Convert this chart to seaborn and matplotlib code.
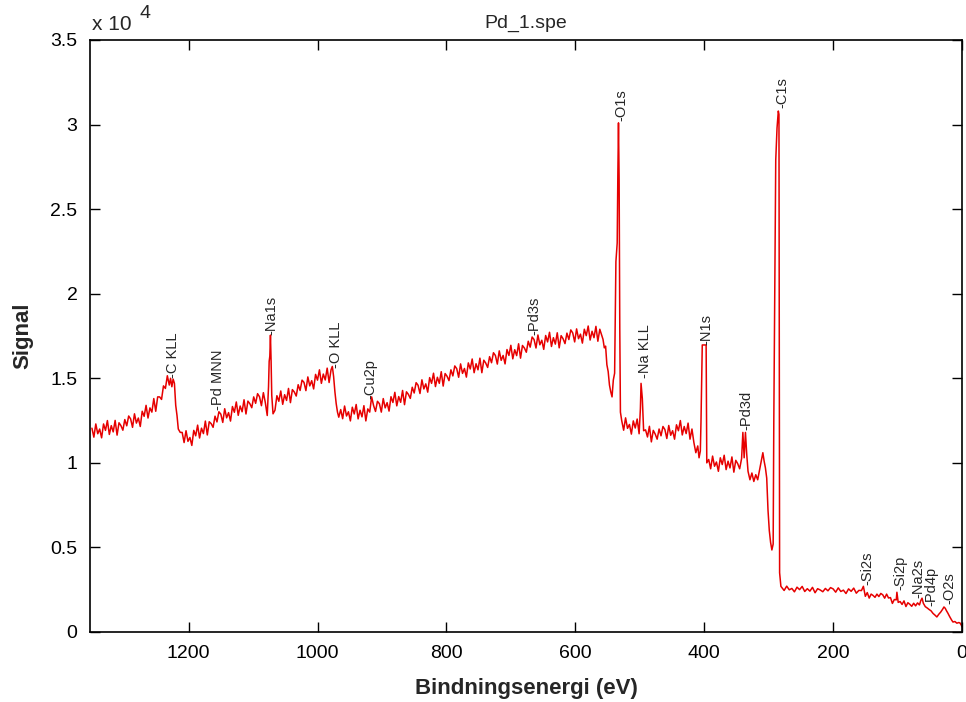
import numpy as np
import pandas as pd
import matplotlib
matplotlib.use("Agg")
import matplotlib.pyplot as plt
import seaborn as sns
from matplotlib.ticker import FuncFormatter

# ---------------- data ----------------
# high-energy background up to the C KLL Auger peak
seg1_e = [1350, 1347, 1344, 1341, 1338, 1335, 1332, 1329, 1326, 1323,
          1320, 1317, 1314, 1311, 1308, 1305, 1302, 1299, 1296, 1293,
          1290, 1287, 1284, 1281, 1278, 1275, 1272, 1269, 1266, 1263,
          1260, 1257, 1254, 1251, 1248, 1245, 1242, 1239, 1236, 1233,
          1230, 1228, 1226, 1224, 1222, 1220, 1218, 1216, 1213]
seg1_s = [12050, 11520, 12300, 11720, 12000, 11480, 12300, 11920, 12500, 11680,
          12200, 11830, 12510, 11640, 12370, 12200, 11930, 12560, 12190, 12770,
          12600, 12100, 12900, 12350, 12650, 12150, 13050, 12750, 13400, 12650,
          13250, 13000, 13800, 13050, 13900, 13900, 13750, 14550, 14400, 15150,
          14600, 15000, 14500, 14950, 14700, 13400, 12800, 12000, 11800]

# Pd MNN region and Na1s
seg2_e = [1210, 1207, 1204, 1201, 1198, 1195, 1192, 1189, 1186, 1183,
          1180, 1177, 1174, 1171, 1168, 1165, 1162, 1159, 1156, 1153,
          1150, 1147, 1144, 1141, 1138, 1135, 1132, 1129, 1126, 1123,
          1120, 1117, 1114, 1111, 1108, 1105, 1102, 1099, 1096, 1093,
          1090, 1087, 1084, 1081, 1078, 1076, 1075, 1074, 1073, 1072,
          1071, 1069]
seg2_s = [11800, 11200, 11900, 11270, 11500, 11030, 11920, 11600, 12230, 11470,
          12050, 11730, 12470, 11650, 12430, 12320, 12100, 12760, 12420, 13020,
          12880, 12390, 13200, 12660, 12970, 12470, 13330, 12990, 13600, 12810,
          13360, 13020, 13730, 12890, 13650, 13500, 13260, 13900, 13520, 14090,
          13910, 13380, 14150, 13570, 12800, 14500, 16000, 16300, 17550, 16000,
          14000, 12900]

# rise to the O KLL Auger peak
seg3_e = [1066, 1063, 1060, 1057, 1054, 1051, 1048, 1045, 1042, 1039,
          1036, 1033, 1030, 1027, 1024, 1021, 1018, 1015, 1012, 1009,
          1006, 1003, 1000, 997, 994, 991, 988, 985, 982, 979,
          977, 975, 973, 971, 969, 967]
seg3_s = [13110, 13970, 13640, 14250, 13460, 14030, 13690, 14400, 13560, 14330,
          14190, 13950, 14620, 14280, 14890, 14760, 14270, 15080, 14550, 14860,
          14370, 15230, 14890, 15500, 14700, 15250, 14900, 15600, 14750, 15500,
          15700, 15100, 14200, 13500, 13000, 12700]

# broad background with Cu2p and Pd3s
seg4_e = [964, 961, 958, 955, 952, 949, 946, 943, 940, 937,
          934, 931, 928, 925, 922, 919, 916, 913, 910, 907,
          904, 901, 898, 895, 892, 889, 886, 883, 880, 877,
          874, 871, 868, 865, 862, 859, 856, 853, 850, 847,
          844, 841, 838, 835, 832, 829, 826, 823, 820, 817,
          814, 811, 808, 805, 802, 799, 796, 793, 790, 787,
          784, 781, 778, 775, 772, 769, 766, 763, 760, 757,
          754, 751, 748, 745, 742, 739, 736, 733, 730, 727,
          724, 721, 718, 715, 712, 709, 706, 703, 700, 697,
          694, 691, 688, 685, 682, 679, 676, 673, 670, 667,
          664, 661, 658, 655, 652, 649, 646, 643, 640, 637,
          634, 631, 628, 625, 622, 619, 616, 613, 610, 607,
          604, 601, 598, 595, 592, 589, 586, 583, 580, 577,
          574, 571, 568, 565, 562]
seg4_s = [13150, 12610, 13360, 12770, 13020, 12480, 13290, 12890, 13450, 12600,
          13110, 12720, 13380, 12480, 13190, 13000, 13900, 13390, 13040, 13640,
          13500, 13000, 13800, 13250, 13560, 13060, 13910, 13570, 14170, 13370,
          13920, 13580, 14280, 13440, 14200, 14050, 13810, 14470, 14130, 14740,
          14590, 14100, 14910, 14370, 14670, 14180, 15040, 14700, 15300, 14510,
          15060, 14700, 15390, 14540, 15280, 15120, 14860, 15500, 15140, 15730,
          15570, 15060, 15850, 15290, 15580, 15070, 15910, 15550, 16140, 15330,
          15860, 15500, 16190, 15330, 16070, 15900, 15640, 16280, 15920, 16510,
          16350, 15840, 16620, 16060, 16350, 15850, 16700, 16350, 16950, 16150,
          16690, 16340, 17040, 16190, 16940, 16790, 16540, 17190, 16840, 17440,
          17290, 16790, 17560, 16980, 17250, 16710, 17530, 17150, 17720, 16880,
          17400, 17020, 17690, 16800, 17520, 17340, 17050, 17670, 17290, 17860,
          17680, 17150, 17920, 17340, 17610, 17080, 17900, 17520, 18090, 17260,
          17780, 17400, 18070, 17190, 17900]

# O1s, Na KLL and the plateau before N1s
seg5_e = [557, 555, 553, 551, 549, 547, 545, 543, 541, 539,
          537, 535, 534, 533, 532, 531, 530, 528, 525, 522,
          519, 516, 513, 510, 507, 504, 501, 499, 498, 496,
          494, 491, 488, 485, 482, 479, 476, 473, 470, 467,
          464, 461, 458, 455, 452, 449, 446, 443, 440, 437,
          434, 431, 428, 425, 422, 419, 416, 413, 410, 408,
          406, 405]
seg5_s = [17300, 16800, 16900, 15800, 15400, 14600, 14200, 13900, 14900, 15300,
          21900, 23000, 27000, 30100, 26700, 18000, 13000, 12500, 11930, 12660,
          12040, 12270, 11700, 12480, 12060, 12590, 11720, 13200, 14700, 13800,
          11900, 11950, 11530, 12160, 11240, 11920, 11700, 11400, 12000, 11600,
          12150, 11970, 11440, 12210, 11630, 11900, 11400, 12250, 11900, 12500,
          11650, 12150, 11730, 12350, 11400, 12000, 11200, 10600, 11000, 10300,
          10700, 12400]

# N1s, Pd3d and the C1s peak
seg6_e = [403, 400, 397, 396, 393, 390, 387, 384, 381, 378,
          375, 372, 369, 366, 363, 360, 357, 354, 351, 348,
          345, 342, 340, 338, 336, 334, 332, 329, 326, 323,
          320, 317, 314, 311, 309, 307, 305, 303, 301, 299,
          297, 295, 293, 292, 289, 287, 285, 284]
seg6_s = [16970, 16970, 16970, 10000, 10200, 9650, 10400, 9800, 10050, 9500,
          10300, 9900, 10450, 9600, 10100, 9700, 10350, 9450, 10150, 9950,
          9650, 10250, 11800, 10300, 11800, 10500, 9500, 9000, 9400, 8900,
          9300, 9000, 9600, 10200, 10600, 10100, 9700, 9100, 7200, 6000,
          5300, 4850, 5200, 12500, 27900, 29800, 30800, 30600]

# low-energy tail: Si2s, Si2p, Na2s, Pd4p, O2s
seg7_e = [283, 281, 280, 276, 272, 268, 264, 260, 256, 252,
          248, 244, 240, 236, 232, 228, 224, 220, 216, 212,
          208, 204, 200, 196, 192, 188, 184, 180, 176, 172,
          168, 164, 160, 156, 153, 150, 147, 144, 141, 138,
          135, 132, 129, 126, 123, 120, 117, 114, 111, 108,
          105, 102, 101, 99, 96, 93, 90, 87, 84, 81,
          78, 75, 72, 69, 66, 64, 62, 60, 57, 54,
          51, 48, 45, 42, 39, 36, 33, 30, 28, 26,
          24, 22, 19, 16, 14, 11, 8, 5, 3, 1,
          0]
seg7_s = [3500, 2700, 2650, 2455, 2710, 2495, 2575, 2375, 2650, 2505,
          2695, 2395, 2560, 2415, 2640, 2320, 2560, 2485, 2380, 2575,
          2435, 2625, 2550, 2355, 2610, 2395, 2475, 2275, 2550, 2405,
          2595, 2295, 2460, 2450, 2700, 2110, 2330, 2005, 2240, 2160,
          2050, 2240, 2095, 2280, 2200, 2000, 2240, 2010, 2035, 1690,
          1920, 1900, 2350, 1750, 1800, 1630, 1840, 1505, 1730, 1640,
          1520, 1700, 1545, 1720, 1600, 1850, 2000, 1700, 1500, 1420,
          1330, 1250, 1100, 1000, 890, 1050, 1180, 1350, 1480, 1400,
          1250, 1120, 900, 700, 590, 620, 520, 560, 530, 400,
          300]

# peak annotations
label_text = ["-C KLL", "-Pd MNN", "-Na1s", "-O KLL", "-Cu2p", "-Pd3s", "-O1s",
              "-Na KLL", "-N1s", "-Pd3d", "-C1s", "-Si2s", "-Si2p", "-Na2s",
              "-Pd4p", "-O2s"]
label_e = [1224, 1154, 1071, 971, 918, 663, 529, 492, 396, 335, 279, 147, 96, 68, 47, 19]
label_y = [15000, 13100, 17560, 15600, 13800, 17560, 30200, 15000, 16970, 11940,
           30980, 2780, 2480, 2000, 1540, 1650]

x_ticks = [1200, 1000, 800, 600, 400, 200, 0]
y_ticks = [0, 5000, 10000, 15000, 20000, 25000, 30000, 35000]

# ---------------- plot ----------------
energy = np.concatenate([seg1_e, seg2_e, seg3_e, seg4_e, seg5_e, seg6_e, seg7_e])
signal = np.concatenate([seg1_s, seg2_s, seg3_s, seg4_s, seg5_s, seg6_s, seg7_s])
for a, b in [(seg1_e, seg1_s), (seg2_e, seg2_s), (seg3_e, seg3_s), (seg4_e, seg4_s),
             (seg5_e, seg5_s), (seg6_e, seg6_s), (seg7_e, seg7_s)]:
    assert len(a) == len(b), (a[0], len(a), len(b))
df = pd.DataFrame({"energy": energy, "signal": signal})

sns.set_style("ticks")
plt.rcParams['font.family'] = ['Liberation Sans', 'DejaVu Sans']

fig = plt.figure(figsize=(9.66, 7.02), dpi=100)
W, H = 966, 702
ax = fig.add_axes([90 / W, 1 - 632 / H, (962 - 90) / W, (632 - 40) / H])

sns.lineplot(data=df, x="energy", y="signal", sort=False, estimator=None,
             color="#e60000", linewidth=1.1, ax=ax)

ax.set_xlim(1353, 0)
ax.set_ylim(0, 35000)
ax.set_xticks(x_ticks)
ax.set_yticks(y_ticks)
ax.yaxis.set_major_formatter(FuncFormatter(lambda v, p: f"{v / 1e4:g}"))
ax.tick_params(direction='in', top=True, right=True, length=7, width=1,
               labelsize=14, pad=9, colors='black')
for sp in ax.spines.values():
    sp.set_visible(True)
    sp.set_linewidth(1.2)
    sp.set_color('black')

ax.set_xlabel("Bindningsenergi (eV)", fontsize=16, fontweight='bold', labelpad=12)
ax.set_ylabel("Signal", fontsize=16, fontweight='bold', labelpad=12)
ax.set_title("Pd_1.spe", fontsize=14, pad=9)

fig.text(92 / W, 1 - 30 / H, "x 10", fontsize=15, ha='left', va='baseline')
fig.text(139 / W, 1 - 18 / H, "4", fontsize=14, ha='left', va='baseline')

for t, e, yv in zip(label_text, label_e, label_y):
    ax.text(e, yv, t, rotation=90, ha='center', va='bottom', fontsize=10.5)

fig.savefig("out.png", dpi=100)
